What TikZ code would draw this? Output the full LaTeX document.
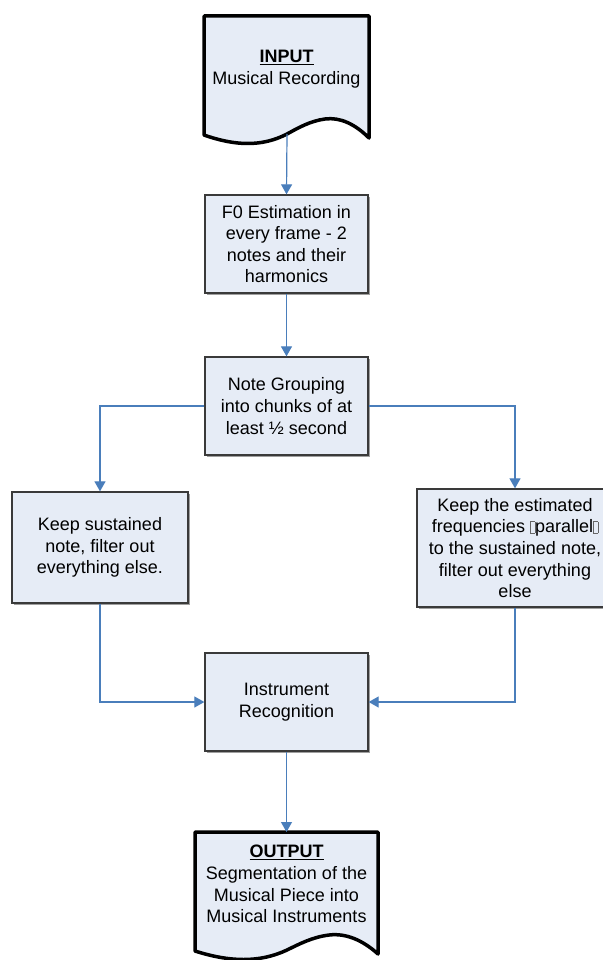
\documentclass[tikz,border=0pt]{standalone}
\usepackage{fontspec}
\setmainfont{Liberation Sans}
\usetikzlibrary{arrows.meta,shadows}
\definecolor{boxfill}{HTML}{E6ECF6}
\definecolor{arrblue}{HTML}{4A7EBB}
\definecolor{boxline}{HTML}{3A3A3A}
\newcommand\missbox{{\color{gray!80!black}\setlength\fboxsep{0pt}\setlength\fboxrule{0.5pt}\fbox{\rule{0pt}{11pt}\hspace{4pt}}}}
\tikzset{
  procbox/.style={draw=boxline, line width=1.3pt, fill=boxfill, align=center,
    inner sep=0pt, drop shadow={shadow xshift=1.8pt, shadow yshift=-1.8pt, fill=gray!75, opacity=1}},
  docshape/.style={draw=black, line width=3.5pt, fill=boxfill, line join=round},
  arr/.style={draw=arrblue, line width=1.2pt, -{Triangle[length=10pt,width=11pt]}},
  txt/.style={align=center, inner sep=0pt}
}
\begin{document}
\begin{tikzpicture}[x=1pt,y=-1pt, font=\fontsize{18}{21.6}\selectfont]
\useasboundingbox (0,0) rectangle (602,960);
% input document
\draw[docshape] (204,16) -- (369,16) -- (369,138)
  .. controls (355,124) and (340,117) .. (325,119)
  .. controls (310,121) and (298,128) .. (287,134)
  .. controls (262,147) and (235,146) .. (204,135) -- cycle;
\node[txt] (input) at (286.5,69) {\underline{\textbf{INPUT}}\\Musical Recording};
\coordinate (inb) at (287,134);
% output document
\draw[docshape] (195,832) -- (378,832) -- (378,954)
  .. controls (362.5,940) and (345.8,933) .. (329.2,935)
  .. controls (312.5,937) and (299.3,944) .. (287,950)
  .. controls (259.3,963) and (229.4,962) .. (195,951) -- cycle;
\node[txt] (output) at (286.5,884) {\underline{\textbf{OUTPUT}}\\Segmentation of the\\Musical Piece into\\Musical Instruments};
\coordinate (outt) at (286.5,832);
% process boxes
\node[procbox, minimum width=163pt, minimum height=98pt] (f0) at (286.5,244)
  {F0 Estimation in\\every frame - 2\\notes and their\\harmonics};
\node[procbox, minimum width=163pt, minimum height=98pt] (note) at (286.5,406)
  {Note Grouping\\into chunks of at\\least ½ second};
\node[procbox, minimum width=176pt, minimum height=111pt] (lbox) at (100,547.5)
  {Keep sustained\\note, filter out\\everything else.};
\node[procbox, minimum width=196pt, minimum height=118pt] (rbox) at (515,548)
  {Keep the estimated\\frequencies \missbox parallel\missbox\\to the sustained note,\\filter out everything\\else};
\node[procbox, minimum width=163pt, minimum height=98pt] (instr) at (286.5,702)
  {Instrument\\Recognition};
% connectors
\draw[arr] (inb) -- (f0.north);
\draw[arr] (f0.south) -- (note.north);
\draw[arr] (note.west) -| (lbox.north);
\draw[arr] (note.east) -| (rbox.north);
\draw[arr] (lbox.south) |- (instr.west);
\draw[arr] (rbox.south) |- (instr.east);
\draw[arr] (instr.south) -- (outt);
\end{tikzpicture}
\end{document}
